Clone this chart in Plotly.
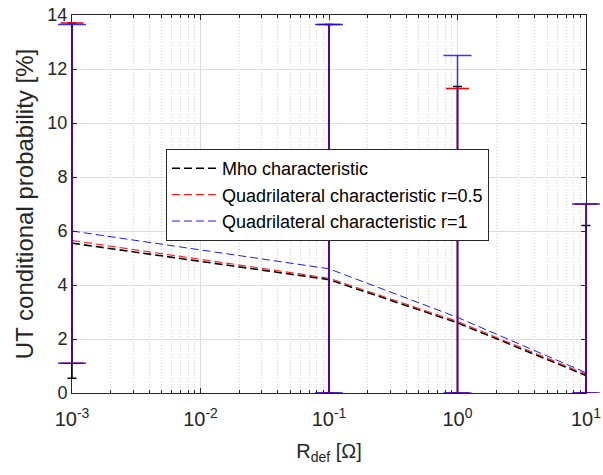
import plotly.graph_objects as go

# Data
r_def = [1e-3, 1e-1, 1e0, 1e1]

mho_mean = [5.55, 4.2, 2.6, 0.65]
mho_upper = [13.7, 13.65, 11.35, 6.2]
mho_lower = [0.55, 0.0, 0.0, 0.0]

q05_mean = [5.65, 4.25, 2.65, 0.7]
q05_upper = [13.7, 13.65, 11.28, 7.0]
q05_lower = [1.1, 0.0, 0.0, 0.0]

q1_mean = [6.0, 4.6, 2.8, 0.75]
q1_upper = [13.65, 13.65, 12.5, 7.0]
q1_lower = [1.1, 0.0, 0.0, 0.0]

x_tickvals = [1e-3, 1e-2, 1e-1, 1e0, 1e1]
x_ticktext = ["10<sup>-3</sup>", "10<sup>-2</sup>", "10<sup>-1</sup>",
              "10<sup>0</sup>", "10<sup>1</sup>"]
x_minor = [m * 10.0 ** e for e in range(-3, 1) for m in range(2, 10)]

names = ["Mho characteristic",
         "Quadrilateral characteristic r=0.5",
         "Quadrilateral characteristic r=1"]

# style: line colour, line width, errorbar colour, errorbar thickness, cap half-width
series = [
    (mho_mean, mho_upper, mho_lower, "black", 1.6, "black", 1.5, 4.5),
    (q05_mean, q05_upper, q05_lower, "#ff2020", 1.1, "#ff0000", 1.5, 11.5),
    (q1_mean, q1_upper, q1_lower, "#0000ff", 0.9, "rgba(0,0,255,0.8)", 1.5, 14),
]

# Geometry of the axes box in pixels
L, R, T, B = 72, 586, 15, 393
W, H = 603, 475
ml, mr = 50, 0
pw = W - ml - mr
dec = (R - L) / 4.0  # pixels per decade
x2_range = [-3 - (L - ml) / dec, 1 + (W - mr - R) / dec]

fig = go.Figure()
for name, (m, up, lo, lc, lw, ec, et, cap) in zip(names, series):
    fig.add_trace(go.Scatter(
        x=r_def, y=m, name=name, mode="lines",
        line=dict(color=lc, width=lw, dash="8px,4px"),
        xaxis="x", yaxis="y",
    ))
for name, (m, up, lo, lc, lw, ec, et, cap) in zip(names, series):
    fig.add_trace(go.Scatter(
        x=r_def, y=m, name=name, mode="markers", showlegend=False,
        marker=dict(size=1, opacity=0),
        error_y=dict(type="data", symmetric=False,
                     array=[u - v for u, v in zip(up, m)],
                     arrayminus=[v - l for v, l in zip(m, lo)],
                     color=ec, thickness=et, width=cap),
        xaxis="x2", yaxis="y2", hoverinfo="skip",
    ))

axcol = "#262626"
fig.update_layout(
    width=W, height=H,
    margin=dict(l=ml, r=mr, t=T, b=H - B),
    paper_bgcolor="white", plot_bgcolor="rgba(0,0,0,0)",
    font=dict(family="Liberation Sans, Arial, sans-serif", color=axcol, size=18),
    showlegend=True,
    legend=dict(x=(166 - ml) / pw, y=(B - 149) / (B - T), xanchor="left", yanchor="top",
                bgcolor="white", bordercolor=axcol, borderwidth=1,
                font=dict(size=18, color="black"), tracegroupgap=0,
                itemwidth=45),
    xaxis=dict(type="log", range=[-3, 1], domain=[(L - ml) / pw, (R - ml) / pw],
               tickvals=x_tickvals, ticktext=x_ticktext, tickfont=dict(size=20),
               ticklabelstandoff=8,
               showline=True, linecolor=axcol, linewidth=1, mirror="ticks",
               ticks="inside", ticklen=5, tickcolor=axcol,
               showgrid=True, gridcolor="#dedede", gridwidth=1,
               zeroline=False, automargin=False,
               minor=dict(tickmode="array", tickvals=x_minor,
                          ticks="inside", ticklen=3, tickcolor=axcol,
                          showgrid=True, gridcolor="#d2d2d2", griddash="1px,2px"),
               title=dict(text="R<sub>def</sub> [Ω]", font=dict(size=20), standoff=14)),
    yaxis=dict(range=[0, 14], dtick=2, tickfont=dict(size=18),
               showline=True, linecolor=axcol, linewidth=1, mirror="ticks",
               ticks="inside", ticklen=5, tickcolor=axcol,
               showgrid=True, gridcolor="#dedede", gridwidth=1,
               zeroline=False, automargin=False,
               title=dict(text="UT conditional probability [%]", font=dict(size=24), standoff=6)),
    xaxis2=dict(type="log", range=x2_range, domain=[0, 1], anchor="y2",
                visible=False, showgrid=False, zeroline=False),
    yaxis2=dict(range=[0, 14], domain=[0, 1], anchor="x2",
                visible=False, showgrid=False, zeroline=False),
)

fig.write_html("out.html")
